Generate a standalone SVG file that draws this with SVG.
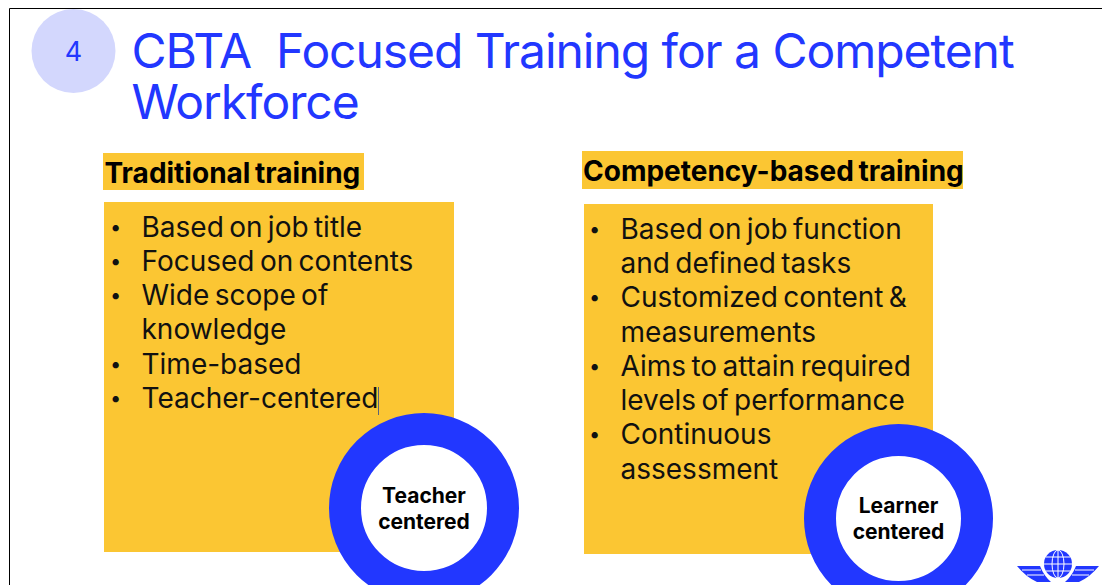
<svg xmlns="http://www.w3.org/2000/svg" width="1102" height="585" viewBox="0 0 1102 585">
<style>
.t{font-family:Inter,"Liberation Sans",sans-serif;fill:#2237ff;font-size:48px;letter-spacing:-1.05px}
.h{font-family:Inter,"Liberation Sans",sans-serif;fill:#000;font-size:28px;font-weight:700;word-spacing:-2px}
.b text{font-family:Inter,"Liberation Sans",sans-serif;fill:#111;font-size:28px;word-spacing:-2.5px}
.b .d{font-size:20px}
.c{font-family:Inter,"Liberation Sans",sans-serif;fill:#000;font-size:21px;font-weight:700;text-anchor:middle}
.y{fill:#fbc633}
.ring{fill:#fff;stroke:#2237ff;stroke-width:32}
</style>
<rect width="1102" height="585" fill="#fff"/>
<path d="M9.500 585V8.500H1102" fill="none" stroke="#000" stroke-width="1"/>
<g id="badge"><circle cx="73.500" cy="51" r="42" fill="#d3d7fd"/><text x="73.500" y="61" font-family="Inter,'Liberation Sans',sans-serif" font-size="27" fill="#2237ff" text-anchor="middle">4</text></g>
<g id="title"><text class="t" x="131.500" y="68">CBTA</text><text class="t" x="276" y="68">Focused Training for a Competent</text><text class="t" x="131.500" y="119">Workforce</text></g>
<g id="traditional-heading"><rect class="y" x="103" y="153" width="261" height="37"/><text class="h" x="104.500" y="183">Traditional training</text></g>
<g id="competency-heading"><rect class="y" x="582" y="151" width="381" height="38"/><text class="h" x="583" y="181">Competency-based training</text></g>
<g id="traditional-list"><rect class="y" x="104" y="202" width="350" height="350"/>
<g class="b"><text class="d" x="110" y="234">•</text><text x="141.500" y="237">Based on job title</text>
<text class="d" x="110" y="268">•</text><text x="141.500" y="271">Focused on contents</text>
<text class="d" x="110" y="302">•</text><text x="141.500" y="305">Wide scope of</text>
<text x="141.500" y="339">knowledge</text>
<text class="d" x="110" y="371">•</text><text x="141.500" y="374">Time-based</text>
<text class="d" x="110" y="405">•</text><text x="141.500" y="408">Teacher-centered</text></g>
<rect x="378" y="387" width="1" height="28" fill="#5a6478"/></g>
<g id="competency-list"><rect class="y" x="584" y="204" width="349" height="350"/>
<g class="b"><text class="d" x="589" y="236">•</text><text x="620.500" y="239">Based on job function</text>
<text x="620.500" y="273">and defined tasks</text>
<text class="d" x="589" y="304">•</text><text x="620.500" y="307">Customized content &amp;</text>
<text x="620.500" y="342">measurements</text>
<text class="d" x="589" y="373">•</text><text x="620.500" y="376">Aims to attain required</text>
<text x="620.500" y="410">levels of performance</text>
<text class="d" x="589" y="441">•</text><text x="620.500" y="444">Continuous</text>
<text x="620.500" y="479">assessment</text></g></g>
<g id="teacher-centered"><circle class="ring" cx="424" cy="508" r="79"/><text class="c" x="424" y="503">Teacher</text><text class="c" x="424" y="529">centered</text></g>
<g id="learner-centered"><circle class="ring" cx="898.500" cy="518.500" r="78.500"/><text class="c" x="898.500" y="513">Learner</text><text class="c" x="898.500" y="539">centered</text></g>
<g id="logo"><circle cx="1058" cy="564" r="14" fill="#2237ff"/>
<g fill="none" stroke="#fff" stroke-width="1"><ellipse cx="1058" cy="564" rx="6" ry="14"/><path d="M1058 550V578M1044 564H1072M1046 557H1070M1046 571H1070"/></g>
<path d="M1017 566H1040Q1044 576 1051 582H1037Q1026 577 1017 566ZM1099 566H1076Q1072 576 1065 582H1079Q1090 577 1099 566Z" fill="#2237ff"/>
<path d="M1022 570H1041M1027 575H1044M1094 570H1075M1089 575H1072" stroke="#fff" stroke-width="1" fill="none"/></g>
</svg>
